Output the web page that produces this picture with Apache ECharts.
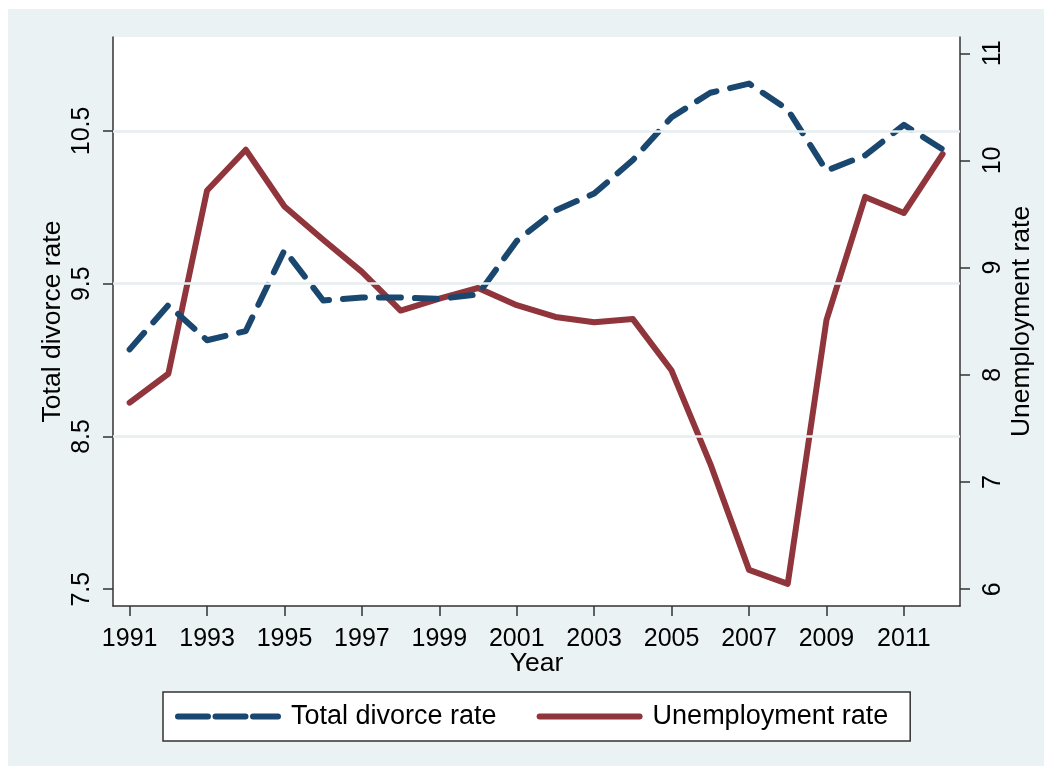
<!DOCTYPE html>
<html>
<head>
<meta charset="utf-8">
<script src="https://cdn.jsdelivr.net/npm/echarts@6/dist/echarts.min.js"></script>
<style>
  html, body { margin: 0; padding: 0; background: #ffffff; }
  #wrap { position: relative; width: 1052px; height: 773px; }
  #bg { position: absolute; left: 8px; top: 9px; width: 1036px; height: 757px; background: #eaf2f3; }
  #chart { position: absolute; left: 0; top: 0; width: 1052px; height: 773px; }
</style>
</head>
<body>
<div id="wrap"><div id="bg"></div><div id="chart"></div></div>
<script>
const years = [1991,1992,1993,1994,1995,1996,1997,1998,1999,2000,2001,2002,2003,2004,2005,2006,2007,2008,2009,2010,2011,2012];
const divorceRate = [9.07,9.36,9.13,9.19,9.72,9.39,9.41,9.41,9.40,9.43,9.78,9.98,10.09,10.31,10.59,10.75,10.81,10.64,10.24,10.34,10.54,10.38];
const unemploymentRate = [7.74,8.01,9.72,10.10,9.57,9.26,8.96,8.60,8.71,8.81,8.65,8.54,8.49,8.52,8.04,7.17,6.18,6.05,8.51,9.66,9.51,10.06];
const xTicks = [1991,1993,1995,1997,1999,2001,2003,2005,2007,2009,2011];
const leftTicks = [7.5,8.5,9.5,10.5];
const rightTicks = [6,7,8,9,10,11];
const gridValues = [8.5,9.5,10.5];

const FONT = '"Liberation Sans", Arial, Helvetica, sans-serif';
const AXIS_COLOR = '#333333';
const BLUE = '#1a476f';
const RED = '#90353b';

const chart = echarts.init(document.getElementById('chart'), null, { renderer: 'canvas' });

const axisCommon = {
  axisLine: { show: true, lineStyle: { color: AXIS_COLOR, width: 1.5 } },
  axisTick: { show: true, length: 10, inside: false, lineStyle: { color: AXIS_COLOR, width: 1.5 } },
  splitLine: { show: false },
  nameMoveOverlap: false,
  nameTextStyle: { fontFamily: FONT, fontSize: 26.5, color: '#000' }
};

chart.setOption({
  animation: false,
  backgroundColor: 'transparent',
  textStyle: { fontFamily: FONT },
  grid: { left: 113, top: 37, right: 92, bottom: 167, show: true, backgroundColor: '#ffffff', borderWidth: 0 },
  legend: {
    left: 163, top: 692,
    orient: 'horizontal',
    backgroundColor: '#ffffff',
    borderColor: AXIS_COLOR, borderWidth: 1.5, borderRadius: 0,
    padding: [11, 22, 11, 12],
    itemWidth: 100, itemHeight: 14, itemGap: 40,
    itemStyle: { opacity: 0 },
    textStyle: { fontFamily: FONT, fontSize: 27, color: '#000', padding: [0, 0, 0, 8] },
    data: [
      { name: 'Total divorce rate', itemStyle: { opacity: 0 }, lineStyle: { color: BLUE, width: 6, type: [30, 7.5], cap: 'round' } },
      { name: 'Unemployment rate', itemStyle: { opacity: 0 }, lineStyle: { color: RED, width: 6, type: 'solid', cap: 'round' } }
    ]
  },
  xAxis: Object.assign({}, axisCommon, {
    type: 'value',
    min: 1990.57, max: 2012.45,
    name: 'Year', nameLocation: 'middle', nameGap: 44,
    axisTick: Object.assign({}, axisCommon.axisTick, { customValues: xTicks }),
    axisLabel: { customValues: xTicks, formatter: v => String(v), fontFamily: FONT, fontSize: 25, color: '#000', margin: 21 }
  }),
  yAxis: [
    Object.assign({}, axisCommon, {
      type: 'value', position: 'left',
      min: 7.39, max: 11.115,
      name: 'Total divorce rate', nameLocation: 'middle', nameGap: 47, nameRotate: 90,
      axisTick: Object.assign({}, axisCommon.axisTick, { customValues: leftTicks }),
      axisLabel: { customValues: leftTicks, rotate: 90, formatter: v => v.toFixed(1), fontFamily: FONT, fontSize: 25, color: '#000', margin: 18 }
    }),
    Object.assign({}, axisCommon, {
      type: 'value', position: 'right',
      min: 5.843, max: 11.152,
      name: 'Unemployment rate', nameLocation: 'middle', nameGap: 48, nameRotate: 90,
      axisTick: Object.assign({}, axisCommon.axisTick, { customValues: rightTicks }),
      axisLabel: { customValues: rightTicks, rotate: 90, formatter: v => String(v), fontFamily: FONT, fontSize: 25, color: '#000', margin: 21 }
    })
  ],
  series: [
    {
      name: 'gridlines', type: 'line', yAxisIndex: 0, data: [], z: 1, silent: true,
      markLine: {
        silent: true, symbol: ['none', 'none'], label: { show: false },
        lineStyle: { color: '#e6eef0', width: 2.5, type: 'solid' },
        emphasis: { disabled: true },
        data: gridValues.map(v => ({ yAxis: v }))
      }
    },
    {
      name: 'Total divorce rate', type: 'line', yAxisIndex: 0, z: 3,
      data: years.map((y, i) => [y, divorceRate[i]]),
      showSymbol: false, symbol: 'none',
      lineStyle: { color: BLUE, width: 6, type: [22, 14], cap: 'round', join: 'round' },
      itemStyle: { color: BLUE }
    },
    {
      name: 'Unemployment rate', type: 'line', yAxisIndex: 1, z: 2,
      data: years.map((y, i) => [y, unemploymentRate[i]]),
      showSymbol: false, symbol: 'none',
      lineStyle: { color: RED, width: 6, type: 'solid', cap: 'round', join: 'round' },
      itemStyle: { color: RED }
    }
  ]
});
</script>
</body>
</html>
